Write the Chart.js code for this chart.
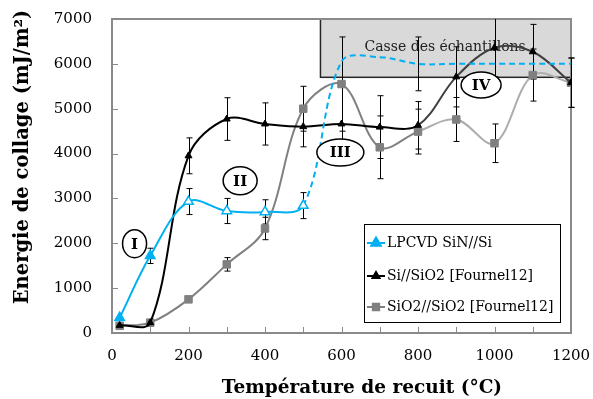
<!DOCTYPE html>
<html><head><meta charset="utf-8">
<script src="https://cdn.jsdelivr.net/npm/chart.js@4"></script>
<style>html,body{margin:0;padding:0;background:#fff}#wrap{width:593px;height:399px}</style>
</head><body><div id="wrap"><canvas id="c" width="593" height="399"></canvas></div>
<script>
// ---- data ----
const temps = [20,100,200,300,400,500,600,700,800,900,1000,1100,1200];
const sinTemps = [20,100,200,300,400,500,600,700,800,900,1000,1100,1200];
const sinValues = [340,1720,2930,2720,2700,2840,6050,6150,6000,6000,6000,6000,6000];
const sinErrors = [0,170,290,280,270,290,0,0,600,0,0,0,0];
const siSio2Values = [170,230,3950,4770,4660,4600,4660,4590,4630,5710,6360,6270,5580];
const siSio2Errors = [0,0,400,475,470,450,900,700,530,670,650,610,550];
const sio2Values = [160,230,750,1530,2330,5000,5550,4140,4490,4760,4230,5750,5580];
const sio2Errors = [0,0,0,150,250,500,1050,700,500,490,430,580,550];
const seriesNames = ['LPCVD SiN//Si','Si//SiO2 [Fournel12]','SiO2//SiO2 [Fournel12]'];
const xTickLabels = [0,200,400,600,800,1000,1200];
const yTickLabels = [0,1000,2000,3000,4000,5000,6000,7000];
const xTitle = 'Température de recuit (°C)';
const yTitle = 'Energie de collage (mJ/m²)';
const boxText = 'Casse des échantillons';
const boxRange = {x0:545, x1:1200, y0:5700, y1:7000};
const zoneLabels = ['I','II','III','IV'];
const zoneX = [59,335,597,965];
const zoneY = [1990,3393,4024,5528];

const BLUE = '#00B0F0', GRAY = '#808080';
const SERIF = '"DejaVu Serif", "Liberation Serif", serif';

const pts = (xs, ys) => xs.map((x,i)=>({x, y: ys[i]}));
const errs = [sinErrors, siSio2Errors, sio2Errors];

const decorPlugin = {
  id: 'decor',
  beforeDatasetsDraw(chart) {
    const {ctx, chartArea: a, scales: {x, y}} = chart;
    ctx.save();
    const bx0 = x.getPixelForValue(boxRange.x0), bx1 = x.getPixelForValue(boxRange.x1);
    const by0 = y.getPixelForValue(boxRange.y1), by1 = y.getPixelForValue(boxRange.y0);
    ctx.fillStyle = '#d9d9d9';
    ctx.fillRect(bx0, by0, bx1-bx0, by1-by0);
    ctx.strokeStyle = '#262626'; ctx.lineWidth = 1.5;
    ctx.strokeRect(bx0, by0, bx1-bx0, by1-by0);
    ctx.fillStyle = '#222';
    ctx.font = '14px ' + SERIF;
    ctx.textAlign = 'center'; ctx.textBaseline = 'middle';
    ctx.fillText(boxText, x.getPixelForValue(871), y.getPixelForValue(6375));
    ctx.strokeStyle = '#8a8a8a'; ctx.lineWidth = 2;
    ctx.strokeRect(a.left, a.top, a.right-a.left, a.bottom-a.top);
    ctx.lineWidth = 1;
    ctx.beginPath();
    x.ticks.forEach(t => { const px = Math.round(x.getPixelForValue(t.value))+0.5; ctx.moveTo(px, a.bottom); ctx.lineTo(px, a.bottom-6); });
    y.ticks.forEach(t => { const py = Math.round(y.getPixelForValue(t.value))+0.5; ctx.moveTo(a.left, py); ctx.lineTo(a.left+6, py); });
    ctx.stroke();
    ctx.strokeStyle = '#000'; ctx.lineWidth = 1;
    chart.data.datasets.forEach((ds, di) => {
      const e = errs[di];
      ds.data.forEach((p, i) => {
        if (!e[i]) return;
        const px = Math.round(x.getPixelForValue(p.x)) + 0.5;
        const top = y.getPixelForValue(Math.min(p.y + e[i], 7000));
        const bot = y.getPixelForValue(p.y - e[i]);
        ctx.beginPath();
        ctx.moveTo(px, top); ctx.lineTo(px, bot);
        if (p.y + e[i] <= 7000) { ctx.moveTo(px-3, top); ctx.lineTo(px+3, top); }
        ctx.moveTo(px-3, bot); ctx.lineTo(px+3, bot);
        ctx.stroke();
      });
    });
    ctx.restore();
  },
  afterDatasetsDraw(chart) {
    const {ctx, chartArea: a, scales: {x, y}} = chart;
    ctx.save();
    const radii = [[12,14],[17,14],[23.5,13.5],[20,13]];
    zoneLabels.forEach((lab, i) => {
      const cx = x.getPixelForValue(zoneX[i]), cy = y.getPixelForValue(zoneY[i]);
      ctx.beginPath();
      ctx.ellipse(cx, cy, radii[i][0], radii[i][1], 0, 0, Math.PI*2);
      ctx.fillStyle = '#fff'; ctx.fill();
      ctx.strokeStyle = '#000'; ctx.lineWidth = 1.5; ctx.stroke();
      ctx.fillStyle = '#000';
      ctx.font = 'bold 15px ' + SERIF;
      ctx.textAlign = 'center'; ctx.textBaseline = 'middle';
      ctx.fillText(lab, cx, cy+1);
    });
    const lx = a.right - 207, ly = a.top + 205, lw = 196, lh = 98;
    ctx.fillStyle = '#fff'; ctx.fillRect(lx, ly, lw, lh);
    ctx.strokeStyle = '#000'; ctx.lineWidth = 1;
    ctx.strokeRect(lx+0.5, ly+0.5, lw, lh);
    const rows = [19, 52, 83];
    chart.data.datasets.forEach((ds, i) => {
      const ry = ly + rows[i];
      ctx.strokeStyle = ds.borderColor; ctx.lineWidth = 2;
      ctx.beginPath(); ctx.moveTo(lx+3, ry); ctx.lineTo(lx+21, ry); ctx.stroke();
      Chart.helpers.drawPoint(ctx, {pointStyle: ds.pointStyle, radius: ds.legendRadius, borderWidth: 1}, lx+12, ry);
      ctx.fillStyle = ds.legendFill; ctx.fill();
      ctx.fillStyle = '#000';
      ctx.font = '14px ' + SERIF;
      ctx.textAlign = 'left'; ctx.textBaseline = 'middle';
      ctx.fillText(ds.label, lx+23, ry);
    });
    ctx.fillStyle = '#000';
    ctx.font = 'bold 18.5px ' + SERIF;
    ctx.textAlign = 'center'; ctx.textBaseline = 'middle';
    ctx.fillText(xTitle, 362, 388);
    ctx.font = 'bold 19.5px ' + SERIF;
    ctx.translate(23, 157); ctx.rotate(-Math.PI/2);
    ctx.fillText(yTitle, 0, 0);
    ctx.restore();
  }
};

new Chart(document.getElementById('c'), {
  type: 'line',
  data: {
    datasets: [
      {
        label: seriesNames[0], data: pts(sinTemps, sinValues),
        borderColor: BLUE, borderWidth: 2, tension: 0.35,
        pointStyle: 'triangle', legendRadius: 5.5, legendFill: BLUE,
        pointRadius: c => (c.raw && c.raw.x <= 500) ? 5.5 : 0,
        pointBackgroundColor: c => c.dataIndex <= 1 ? BLUE : '#fff',
        pointBorderColor: BLUE, pointBorderWidth: 1.5,
        segment: { borderDash: c => c.p0.parsed.x >= 500 ? [6,4] : undefined }
      },
      {
        label: seriesNames[1], data: pts(temps, siSio2Values),
        borderColor: '#000', borderWidth: 2, tension: 0.35,
        pointStyle: 'triangle', pointRadius: 4, legendRadius: 4, legendFill: '#000',
        pointBackgroundColor: '#000', pointBorderColor: '#000', pointBorderWidth: 1,
        segment: { borderColor: c => c.p0.parsed.x >= 800 ? '#404040' : undefined }
      },
      {
        label: seriesNames[2], data: pts(temps, sio2Values),
        borderColor: GRAY, borderWidth: 2, tension: 0.35,
        pointStyle: 'rect', pointRadius: 5.3, legendRadius: 4.5, legendFill: GRAY,
        pointBackgroundColor: GRAY, pointBorderColor: GRAY, pointBorderWidth: 1,
        segment: { borderColor: c => c.p0.parsed.x >= 800 ? '#aeaeae' : undefined }
      }
    ]
  },
  options: {
    responsive: false, animation: false, devicePixelRatio: 1,
    layout: { padding: { top: 19, right: 22, left: 0, bottom: 0 } },
    plugins: { legend: { display: false }, tooltip: { enabled: false } },
    scales: {
      x: {
        type: 'linear', min: 0, max: 1200,
        grid: { display: false, drawTicks: false }, border: { display: false },
        ticks: { stepSize: 100, autoSkip: false, maxRotation: 0, padding: 14,
          color: '#000', font: { family: SERIF, size: 15 },
          callback: v => xTickLabels.includes(v) ? String(v) : '' },
        afterFit: s => { s.height = 66; s.paddingLeft = 0; s.paddingRight = 0; }
      },
      y: {
        min: 0, max: 7000,
        grid: { display: false, drawTicks: false }, border: { display: false },
        ticks: { stepSize: 1000, padding: 20, color: '#000', font: { family: SERIF, size: 15 },
          callback: v => yTickLabels.includes(v) ? String(v) : '' },
        afterFit: s => { s.width = 112; s.paddingTop = 0; s.paddingBottom = 0; }
      }
    }
  },
  plugins: [decorPlugin]
});
</script>
</body></html>
